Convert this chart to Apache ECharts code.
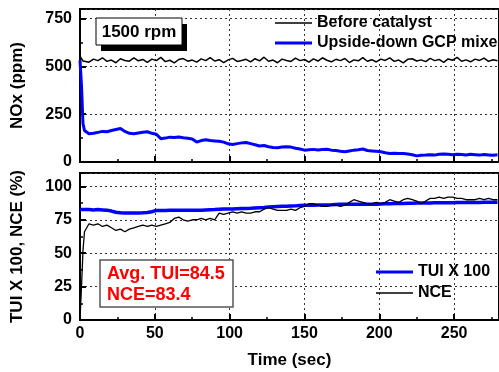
<!DOCTYPE html>
<html><head><meta charset="utf-8">
<script src="https://cdn.jsdelivr.net/npm/echarts@6/dist/echarts.min.js"></script>
<style>html,body{margin:0;padding:0;background:#fff}#c{width:499px;height:372px}</style>
</head><body><div id="c"></div>
<script>
// time samples (sec)
const timeSec = [0,1,2,3,6,9,12,15,18,21,
24,27,30,33,36,39,42,45,48,51,
54,57,60,63,66,69,72,75,78,81,
84,87,90,93,96,99,102,105,108,111,
114,117,120,123,126,129,132,135,138,141,
144,147,150,153,156,159,162,165,168,171,
174,177,180,183,186,189,192,195,198,201,
204,207,210,213,216,219,222,225,228,231,
234,237,240,243,246,249,252,255,258,261,
264,267,270,273,276,279];
// NOx (ppm) before catalyst
const beforeCatalyst = [555,540,528,535,522,538,530,545,526,533,
519,540,531,527,544,529,536,521,538,530,
547,525,532,518,536,541,527,533,522,539,
530,546,528,535,520,534,542,526,531,537,
523,540,529,548,527,533,519,538,531,526,
543,530,536,522,539,528,545,532,524,537,
530,541,520,534,529,546,527,535,523,538,
531,544,526,533,518,537,540,528,534,525,
542,530,536,521,539,532,547,527,534,524,
538,531,543,526,535,529];
// NOx (ppm) upside-down GCP mixer
const upsideDown = [531,400,200,165,148,150,155,160,158,165,
170,175,160,150,148,152,155,158,150,145,
122,125,130,128,131,127,124,120,104,112,
116,112,110,108,104,95,92,96,100,102,
96,90,84,86,80,76,75,78,80,78,
72,68,62,64,66,63,65,67,62,60,
56,54,58,62,64,68,60,58,56,54,
48,44,46,44,45,42,38,32,35,36,
38,36,40,42,40,38,41,39,37,40,
38,36,39,37,35,38];
// TUI x 100 (%)
const tuiX100 = [82.6,82.6,82.6,82.6,82.6,82.4,82.6,82.4,82.2,81.5,
80.6,80.2,80,80,80,80,80.2,80.5,81,82,
82,82,82.1,82.1,82.1,82.1,82.1,82.1,82.1,82.1,
82.3,82.5,82.6,82.8,83,83,83,83.2,83.4,83.5,
83.6,83.8,84,84.2,84.5,84.8,85,85.1,85.2,85.3,
85.4,85.6,85.8,85.8,85.9,86,86,86.1,86.2,86.4,
86.6,86.6,86.6,86.6,86.6,86.6,86.6,86.7,86.7,86.8,
86.9,87,87.1,87.1,87.2,87.3,87.4,87.5,87.5,87.6,
87.6,87.7,87.7,87.8,87.8,87.8,87.9,87.9,88,88,
88,88,88.1,88.1,88.1,88.2];
// NCE (%)
const nce = [0,25,52,66,72,71,72,70,71,69,
67,68,66,68,69,70,71,70,71,70,
71,72,73,76,77,75,74,75,75,76,
75,76,75,80,79,80,81,80,81,80,
80,81,81,83,84,83,82,82,82,83,
82,84,85,87,87,86,85,85,86,86,
85,86,88,90,89,88,87,87,88,87,
88,90,89,88,90,91,90,89,87,89,
91,91,92,91,92,92,91,91,90,90,
90,91,90,91,90,90];
const topYTicks = [0, 800, 250];
const botYTicks = [0, 110, 25];
const xTicks = [0, 280, 50];

const pairs = (ys) => timeSec.map((t, i) => [t, ys[i]]);
const FF = '"Liberation Sans", Arial, sans-serif';
const lbl = {fontFamily: FF, fontWeight: 'bold', fontSize: 16, color: '#000'};
const grid = {type: [2, 3], color: '#333', width: 1};
const thickIcon = 'path://M0,0H37V3H0Z';
const thinIcon = 'path://M0,0H37V1.6H0Z';

function xAxis(gi, showLabels) {
  return {
    type: 'value', gridIndex: gi, min: xTicks[0], max: xTicks[1], interval: xTicks[2],
    axisLine: {show: true, onZero: false, lineStyle: {color: '#000', width: 2}},
    axisTick: {show: true, inside: true, length: 6, lineStyle: {color: '#000', width: 2}},
    minorTick: {show: true, splitNumber: 2, length: 3, lineStyle: {color: '#000', width: 1.5}},
    splitLine: {show: true, lineStyle: grid},
    axisLabel: Object.assign({show: showLabels, margin: 6, showMaxLabel: false}, lbl),
    name: showLabels ? 'Time (sec)' : '', nameLocation: 'middle', nameGap: 32,
    nameTextStyle: {fontFamily: FF, fontWeight: 'bold', fontSize: 17, color: '#000'}
  };
}
function yAxis(gi, ticks, name) {
  return {
    type: 'value', gridIndex: gi, min: ticks[0], max: ticks[1], interval: ticks[2],
    axisLine: {show: true, lineStyle: {color: '#000', width: 2}},
    axisTick: {show: true, inside: true, length: 6, lineStyle: {color: '#000', width: 2}},
    minorTick: {show: true, splitNumber: 2, length: 3, lineStyle: {color: '#000', width: 1.5}},
    splitLine: {show: true, lineStyle: grid},
    axisLabel: Object.assign({margin: 8, showMaxLabel: false}, lbl),
    name: name, nameLocation: 'middle', nameGap: 54,
    nameTextStyle: {fontFamily: FF, fontWeight: 'bold', fontSize: 17, color: '#000'}
  };
}

const chart = echarts.init(document.getElementById('c'), null, {renderer: 'canvas'});
chart.setOption({
  animation: false,
  backgroundColor: '#fff',
  grid: [
    {left: 80, top: 9, height: 153, right: -62.6, show: true, borderColor: '#000', borderWidth: 2},
    {left: 80, top: 173, height: 147, right: -25.6, show: true, borderColor: '#000', borderWidth: 2}
  ],
  xAxis: [xAxis(0, false), xAxis(1, true)],
  yAxis: [yAxis(0, topYTicks, 'NOx (ppm)'), yAxis(1, botYTicks, 'TUI X 100, NCE (%)')],
  legend: [
    {data: [{name: 'Before catalyst', icon: thinIcon}, {name: 'Upside-down GCP mixer', icon: thickIcon}],
     left: 275, top: 15, orient: 'vertical',
     itemWidth: 37, itemHeight: 14, itemGap: 4, padding: 0, textStyle: lbl},
    {data: [{name: 'TUI X 100', icon: thickIcon}, {name: 'NCE', icon: thinIcon}],
     left: 376, top: 264, orient: 'vertical',
     itemWidth: 37, itemHeight: 14, itemGap: 5, padding: 0, textStyle: lbl}
  ],
  series: [
    {name: 'Before catalyst', type: 'line', xAxisIndex: 0, yAxisIndex: 0, symbol: 'none',
     lineStyle: {color: '#000', width: 1.5}, itemStyle: {color: '#000'}, data: pairs(beforeCatalyst)},
    {name: 'Upside-down GCP mixer', type: 'line', xAxisIndex: 0, yAxisIndex: 0, symbol: 'none',
     lineStyle: {color: '#0000ff', width: 3}, itemStyle: {color: '#0000ff'}, data: pairs(upsideDown)},
    {name: 'TUI X 100', type: 'line', xAxisIndex: 1, yAxisIndex: 1, symbol: 'none',
     lineStyle: {color: '#0000ff', width: 3.5}, itemStyle: {color: '#0000ff'}, data: pairs(tuiX100)},
    {name: 'NCE', type: 'line', xAxisIndex: 1, yAxisIndex: 1, symbol: 'none',
     lineStyle: {color: '#000', width: 1.3}, itemStyle: {color: '#000'}, data: pairs(nce)}
  ],
  graphic: [
    {type: 'rect', shape: {x: 101, y: 24, width: 86, height: 27}, style: {fill: '#000'}, z: 100},
    {type: 'rect', shape: {x: 96, y: 18, width: 86, height: 27}, style: {fill: '#fff', stroke: '#000', lineWidth: 1}, z: 101},
    {type: 'text', x: 139, y: 32, z: 102, style: {text: '1500 rpm', fill: '#000', font: 'bold 17px ' + FF, align: 'center', verticalAlign: 'middle'}},
    {type: 'rect', shape: {x: 100, y: 260, width: 133, height: 47}, style: {fill: '#fff', stroke: '#555', lineWidth: 1.5}, z: 100},
    {type: 'text', x: 107, y: 274, z: 102, style: {text: 'Avg. TUI=84.5', fill: '#ff0000', font: 'bold 18px ' + FF, align: 'left', verticalAlign: 'middle'}},
    {type: 'text', x: 107, y: 295, z: 102, style: {text: 'NCE=83.4', fill: '#ff0000', font: 'bold 18px ' + FF, align: 'left', verticalAlign: 'middle'}}
  ]
});
</script></body></html>
